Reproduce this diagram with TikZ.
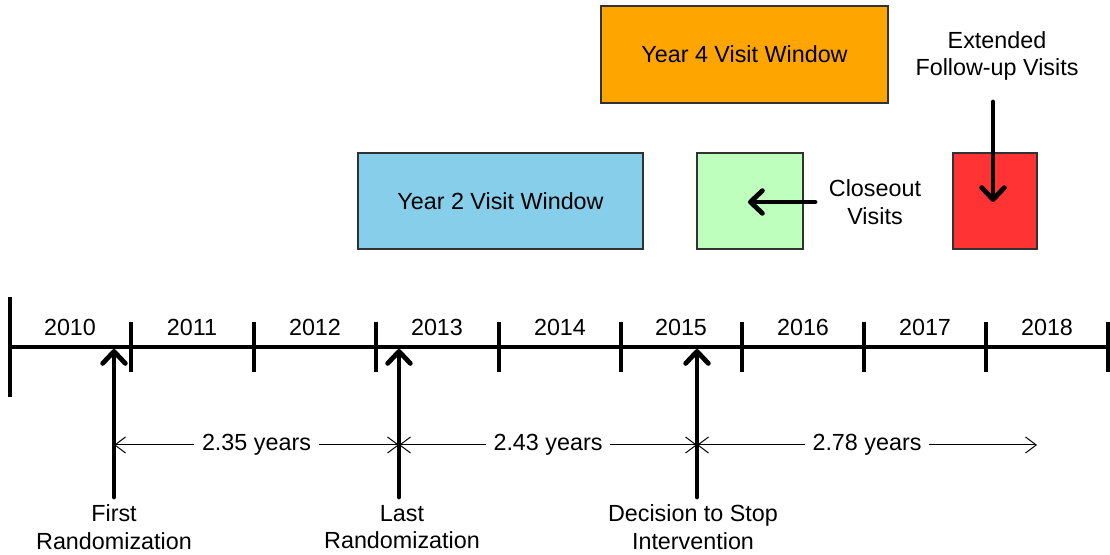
\documentclass[tikz,border=0pt]{standalone}
\usepackage{fontspec}
\setmainfont{Liberation Sans}
\usetikzlibrary{arrows.meta}
\definecolor{boxblue}{RGB}{135,206,235}
\definecolor{boxorange}{RGB}{255,165,0}
\definecolor{boxgreen}{RGB}{190,255,190}
\definecolor{boxred}{RGB}{255,51,51}
\definecolor{boxborder}{RGB}{50,50,50}
\begin{document}
\begin{tikzpicture}[x=0.75pt,y=-0.75pt,
  txt/.style={font=\fontsize{17.5}{20.5}\selectfont, align=center, inner sep=1pt},
  visitbox/.style={draw=boxborder, line width=0.9pt, txt},
  axis/.style={line width=3pt},
  tickmark/.style={line width=2.6pt},
  bigarrow/.style={line width=3.6pt, line cap=round, -{Straight Barb[length=9pt,width=17pt,line cap=round,line join=round]}},
  dimarrow/.style={line width=0.75pt, {Straight Barb[length=8pt,width=12pt]}-{Straight Barb[length=8pt,width=12pt]}},
  dimlabel/.style={txt, fill=white, inner xsep=6pt}
]
\useasboundingbox (0,0) rectangle (1110,555);
% timeline
\coordinate (L) at (10,347);
\coordinate (R) at (1108,347);
\draw[axis] (L) -- (R);
\draw[tickmark] (10,297) -- (10,397);
\foreach \x in {131,254,376,499,621,742,864,986,1108}
  \draw[tickmark] (\x,322) -- (\x,372);
\foreach \x/\y in {70/2010,192/2011,315/2012,437/2013,560/2014,681/2015,803/2016,925/2017,1047/2018}
  \node[txt] (y\y) at (\x,327) {\y};

% boxes
\node[visitbox, fill=boxblue, minimum width=213.75pt, minimum height=72pt] (y2) at (500.5,201) {Year 2 Visit Window};
\node[visitbox, fill=boxorange, minimum width=215.25pt, minimum height=72.75pt] (y4) at (744.5,54.5) {Year 4 Visit Window};
\node[visitbox, fill=boxgreen, minimum width=79.5pt, minimum height=72pt] (close) at (750,201) {};
\node[visitbox, fill=boxred, minimum width=63pt, minimum height=72pt] (ext) at (995,201) {};

% side labels
\node[txt] (closelbl) at (875,202) {Closeout\\ Visits};
\node[txt] (extlbl) at (997,56) {Extended\\ Follow-up Visits};
\coordinate (closestart) at (815,202);
\coordinate (closeend) at (748,202);
\draw[bigarrow] (closestart) -- (closeend);
\coordinate (extstart) at (993,102);
\coordinate (extend) at (993,202);
\draw[bigarrow] (extstart) -- (extend);

% event arrows
\node[txt] (first) at (114,527) {First\\ Randomization};
\node[txt] (last) at (402,527) {Last\\ Randomization};
\node[txt] (stop) at (693,527) {Decision to Stop\\ Intervention};
\coordinate (a1b) at (114,497); \coordinate (a1t) at (114,349);
\coordinate (a2b) at (399,497); \coordinate (a2t) at (399,349);
\coordinate (a3b) at (697,497); \coordinate (a3t) at (697,349);
\draw[bigarrow] (a1b) -- (a1t);
\draw[bigarrow] (a2b) -- (a2t);
\draw[bigarrow] (a3b) -- (a3t);

% dimension arrows
\coordinate (d1) at (114,445);
\coordinate (d2) at (399,445);
\coordinate (d3) at (697,445);
\coordinate (d4) at (1037,445);
\draw[dimarrow] (d1) -- node[dimlabel] {2.35 years} (d2);
\draw[dimarrow] (d2) -- node[dimlabel] {2.43 years} (d3);
\draw[dimarrow] (d3) -- node[dimlabel] {2.78 years} (d4);
\end{tikzpicture}
\end{document}
